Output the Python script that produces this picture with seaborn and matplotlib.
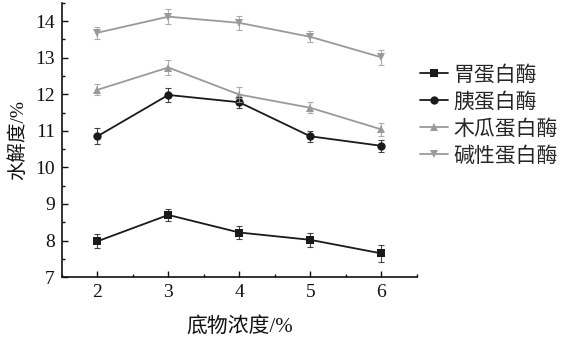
import numpy as np
import pandas as pd
import matplotlib
matplotlib.use("Agg")
import matplotlib.pyplot as plt
from matplotlib.ticker import MultipleLocator
import seaborn as sns

# substrate concentration (%)
concentration = [2, 3, 4, 5, 6]
enzymes = ["胃蛋白酶", "胰蛋白酶", "木瓜蛋白酶", "碱性蛋白酶"]

# degree of hydrolysis (%) and standard deviations
pepsin = [7.98, 8.70, 8.22, 8.02, 7.65]
pepsin_sd = [0.19, 0.16, 0.17, 0.20, 0.23]
trypsin = [10.85, 11.98, 11.78, 10.85, 10.59]
trypsin_sd = [0.22, 0.20, 0.15, 0.15, 0.17]
papain = [12.12, 12.73, 11.99, 11.63, 11.04]
papain_sd = [0.15, 0.20, 0.20, 0.15, 0.17]
alkaline = [13.68, 14.12, 13.95, 13.57, 13.01]
alkaline_sd = [0.17, 0.20, 0.20, 0.15, 0.20]

values = [pepsin, trypsin, papain, alkaline]
errors = [pepsin_sd, trypsin_sd, papain_sd, alkaline_sd]

colors = {"胃蛋白酶": "#1a1a1a", "胰蛋白酶": "#1a1a1a",
          "木瓜蛋白酶": "#9a9a9a", "碱性蛋白酶": "#9a9a9a"}
markers = {"胃蛋白酶": "s", "胰蛋白酶": "o",
           "木瓜蛋白酶": "^", "碱性蛋白酶": "v"}

df = pd.DataFrame({
    "浓度": np.tile(concentration, len(enzymes)),
    "水解度": np.concatenate(values),
    "sd": np.concatenate(errors),
    "酶": np.repeat(enzymes, len(concentration)),
})

sns.set_theme(style="ticks")
plt.rcParams["font.family"] = ["Liberation Serif", "Noto Sans CJK SC"]

fig = plt.figure(figsize=(5.63, 3.43), dpi=100)
ax = fig.add_axes([0.110, 0.192, 0.630, 0.800])

sns.lineplot(data=df, x="浓度", y="水解度", hue="酶", style="酶",
             hue_order=enzymes, style_order=enzymes,
             palette=colors, markers=markers, dashes=False,
             markersize=6, linewidth=1.3, markeredgewidth=0,
             ax=ax, legend=True)

for name in enzymes:
    sub = df[df["酶"] == name]
    ax.errorbar(sub["浓度"], sub["水解度"], yerr=sub["sd"], fmt="none",
                ecolor=colors[name], elinewidth=0.8, capsize=2.5,
                capthick=0.8, alpha=0.8)

ax.set_xlim(1.5, 6.5)
ax.set_ylim(7, 14.5)
ax.xaxis.set_major_locator(MultipleLocator(1))
ax.xaxis.set_minor_locator(MultipleLocator(0.5))
ax.yaxis.set_major_locator(MultipleLocator(1))
ax.yaxis.set_minor_locator(MultipleLocator(0.5))
ax.tick_params(which="both", direction="in", color="#111111", width=1.0)
ax.tick_params(which="major", length=4, labelsize=14, pad=5, labelcolor="#111111")
ax.tick_params(which="minor", length=2.5)
for side in ["top", "right"]:
    ax.spines[side].set_visible(False)
for side in ["left", "bottom"]:
    ax.spines[side].set_color("#111111")
    ax.spines[side].set_linewidth(1.2)

ax.set_xlabel("底物浓度/%", fontsize=15, color="#111111", labelpad=11)
ax.set_ylabel("水解度/%", fontsize=14, color="#111111", labelpad=6)

handles, labels = ax.get_legend_handles_labels()
leg = ax.legend(handles, labels, loc="center left", bbox_to_anchor=(1.0, 0.59),
                frameon=False, handlelength=1.35, handletextpad=0.25,
                labelspacing=0.24, borderaxespad=0.0, borderpad=0.15,
                prop={"family": ["Noto Sans CJK SC"], "size": 15})

fig.savefig("out.png", dpi=100)
